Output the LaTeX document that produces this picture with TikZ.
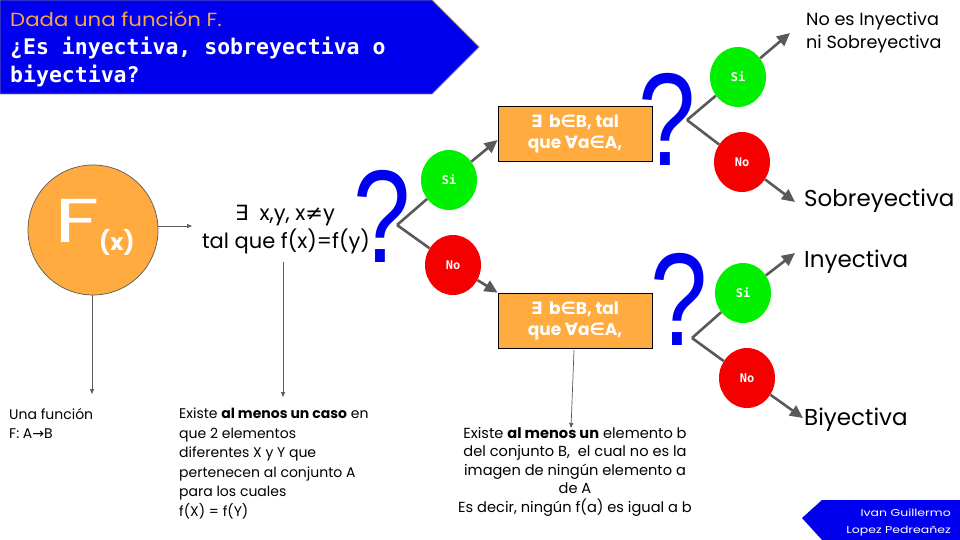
\documentclass[tikz,border=0pt]{standalone}
\usepackage{fontspec}
\setmainfont{Poppins}
\newfontfamily\monof{DejaVu Sans Mono}
\newfontfamily\symf{DejaVu Sans}
\newfontfamily\qf{Liberation Sans}
\usetikzlibrary{arrows.meta,shapes.geometric}
\definecolor{banblue}{RGB}{0,0,238}
\definecolor{qblue}{RGB}{0,0,240}
\definecolor{orng}{RGB}{255,171,64}
\definecolor{ttlorng}{RGB}{246,165,70}
\definecolor{grayln}{RGB}{89,89,89}
\definecolor{sigreen}{RGB}{0,240,0}
\definecolor{nored}{RGB}{245,0,0}
\tikzset{
  thick arrow/.style={draw=grayln,line width=2.6pt,-{Triangle[length=13pt,width=12pt]}},
  thick line/.style={draw=grayln,line width=2.6pt},
  thin arrow/.style={draw=grayln,line width=0.7pt,-{Triangle[length=5pt,width=4pt]}},
  sinode/.style={ellipse,fill=sigreen,minimum width=56pt,minimum height=60pt,inner sep=0pt,text=white,font=\monof\bfseries\fontsize{12}{12}\selectfont},
  nonode/.style={ellipse,fill=nored,minimum width=56pt,minimum height=60pt,inner sep=0pt,text=white,font=\monof\bfseries\fontsize{12}{12}\selectfont},
  qbox/.style={draw=black,line width=0.8pt,fill=orng,minimum width=154pt,minimum height=55pt,inner sep=0pt,text=white,align=center,font=\bfseries\fontsize{17}{21}\selectfont},
  qmark/.style={text=qblue,inner sep=0pt,anchor=base,xscale=0.78,font=\qf\fontsize{132}{132}\selectfont},
  result/.style={anchor=base west,inner sep=0pt,font=\fontsize{23}{23}\selectfont},
  smalltxt/.style={inner sep=0pt,font=\fontsize{14}{19.5}\selectfont}
}
\begin{document}
\begin{tikzpicture}[x=1pt,y=-1pt]
\useasboundingbox (0,0) rectangle (960,540);
% title banner
\draw[fill=banblue,draw=gray,line width=0.8pt] (0,0) -- (432,0) -- (479,47) -- (432,94) -- (0,94) -- cycle;
\node[anchor=base west,inner sep=0pt,text=ttlorng,xscale=1.12,font=\fontsize{19}{19}\selectfont] (t1) at (10,27) {Dada una función F.};
\node[anchor=base west,inner sep=0pt,text=white,font=\monof\bfseries\fontsize{21.5}{21.5}\selectfont] (t2) at (10,55) {¿Es inyectiva, sobreyectiva o};
\node[anchor=base west,inner sep=0pt,text=white,font=\monof\bfseries\fontsize{21.5}{21.5}\selectfont] (t3) at (10,83) {biyectiva?};
% author banner
\fill[banblue] (802,518) -- (822,500) -- (960,500) -- (960,540) -- (822,540) -- cycle;
\node[anchor=base east,inner sep=0pt,text=white,xscale=1.25,font=\fontsize{10}{10}\selectfont] (a1) at (951,516) {Ivan Guillermo};
\node[anchor=base east,inner sep=0pt,text=white,xscale=1.25,font=\fontsize{10}{10}\selectfont] (a2) at (951,533) {Lopez Pedreañez};
% F(x) circle
\node[circle,draw=grayln,line width=0.7pt,fill=orng,minimum size=130pt,inner sep=0pt] (F) at (93,230) {};
\node[anchor=base west,inner sep=0pt,text=white,xscale=1.45,font=\fontsize{62}{62}\selectfont] (Fl) at (54,242) {F};
\node[anchor=base west,inner sep=0pt,text=white,font=\bfseries\fontsize{23}{23}\selectfont] (Fx) at (99,250) {(x)};
% condition text
\node[anchor=base,inner sep=0pt,font=\fontsize{21}{21}\selectfont] (c1) at (285,220) {{\symf ∃} \ x,y, x{\symf ≠}y};
\node[anchor=base,inner sep=0pt,font=\fontsize{21}{21}\selectfont] (c2) at (286,248) {tal que f(x)=f(y)};
\coordinate (cd) at (283,262);
\coordinate (cdt) at (283,397);
\draw[thin arrow] (F.east |- 0,226) -- (192,226);
\coordinate (Fb) at (92,295);
\coordinate (Fbt) at (92,394);
\draw[thin arrow] (Fb) -- (Fbt);
\draw[thin arrow] (cd) -- (cdt);
% bottom left texts
\node[smalltxt,anchor=north west,align=left] (u1) at (9,408) {Una función\\F: A{\symf →}B};
\node[smalltxt,anchor=north west,align=left] (u2) at (179,408) {Existe \textbf{al menos un caso} en\\que 2 elementos\\diferentes X y Y que\\pertenecen al conjunto A\\para los cuales\\ f(X) = f(Y)};
% question marks
\node[qmark] (q1) at (382,262) {?};
\node[qmark] (q2) at (667,165) {?};
\node[qmark] (q3) at (679,345) {?};
% first branch
\coordinate (v1) at (397,225);
\node[sinode] (s1) at (449,180) {Si};
\node[nonode] (n1) at (453,265) {No};
\node[qbox] (b1) at (575,133.5) {{\symf ∃} \,b{\symf ∈}B, tal\\que {\symf ∀}a{\symf ∈}A,};
\node[qbox] (b2) at (575,320.5) {{\symf ∃} \,b{\symf ∈}B, tal\\que {\symf ∀}a{\symf ∈}A,};
\draw[thick line] (v1) -- (s1);
\draw[thick line] (v1) -- (n1);
\draw[thick arrow] (s1) -- (b1.south west |- 0,140);
\draw[thick arrow] (n1) -- (b2.north west);
% down from bottom box
\coordinate (bd) at (574,350);
\coordinate (bdt) at (571,428);
\draw[thin arrow] (bd) -- (bdt);
\node[smalltxt,anchor=north,align=center,font=\fontsize{14.6}{18.5}\selectfont] (ex) at (575,427) {Existe \textbf{al menos un} elemento b\\del conjunto B, \ el cual no es la\\imagen de ningún elemento a\\de A\\Es decir, ningún f(a) es igual a b};
% top right branch
\coordinate (v2) at (687,120);
\node[sinode] (s2) at (738,77) {Si};
\node[nonode] (n2) at (742,162) {No};
\coordinate (r1) at (790,33);
\coordinate (r2) at (795,202);
\draw[thick line] (v2) -- (s2);
\draw[thick line] (v2) -- (n2);
\draw[thick arrow] (s2) -- (r1);
\draw[thick arrow] (n2) -- (r2);
\node[anchor=base west,inner sep=0pt,font=\fontsize{17.6}{23}\selectfont] (rt1) at (806,26) {No es Inyectiva};
\node[anchor=base west,inner sep=0pt,font=\fontsize{17.6}{23}\selectfont] (rt2) at (806,49) {ni Sobreyectiva};
\node[result] (rt3) at (804,206) {Sobreyectiva};
% bottom right branch
\coordinate (v3) at (692,338);
\node[sinode] (s3) at (743,293) {Si};
\node[nonode] (n3) at (747,378) {No};
\coordinate (r3) at (795,253);
\coordinate (r4) at (803,418);
\draw[thick line] (v3) -- (s3);
\draw[thick line] (v3) -- (n3);
\draw[thick arrow] (s3) -- (r3);
\draw[thick arrow] (n3) -- (r4);
\node[result] (rt4) at (804,267) {Inyectiva};
\node[result] (rt5) at (804,425) {Biyectiva};
\end{tikzpicture}
\end{document}
